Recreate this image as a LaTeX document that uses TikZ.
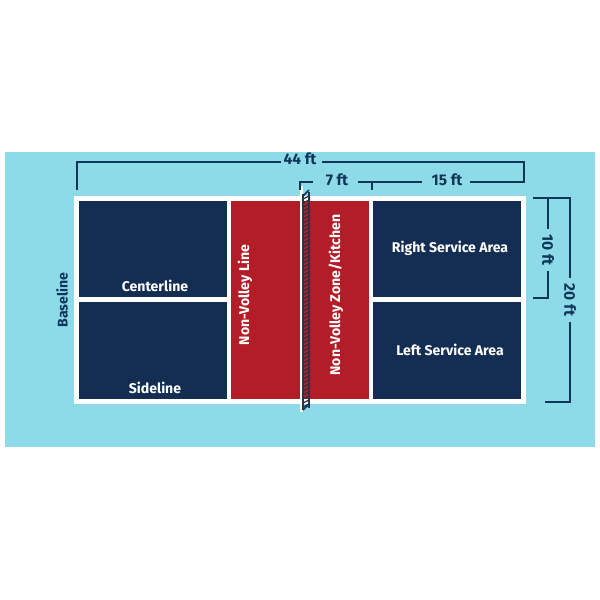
\documentclass[tikz,border=0pt]{standalone}
\usepackage{fontspec}
\setmainfont{Fira Sans}
\usetikzlibrary{positioning}
\definecolor{sky}{HTML}{8DDAE8}
\definecolor{navy}{HTML}{132E52}
\definecolor{courtred}{HTML}{B31D28}
\definecolor{ink}{HTML}{0F3558}
\definecolor{netgray}{HTML}{2B3345}

\begin{document}
\begin{tikzpicture}[%
    x=0.025cm, y=-0.025cm,      % one unit is one pixel of the 600x600 sheet
    line join=miter,
    ]
% -------------------------------------------------
% A few styles
\tikzset{
  lbl/.style={text=white, font=\bfseries\fontsize{10}{12}\selectfont, inner sep=0pt},
  dim/.style={text=ink, font=\bfseries\fontsize{11}{13}\selectfont, inner sep=0pt},
  dimline/.style={draw=ink, line width=2.1pt},
  netline/.style={draw=netgray, line width=0.9pt}
}
% -------------------------------------------------
% Sheet and court surface
\useasboundingbox (0,0) rectangle (600,600);
\fill[white] (0,0) rectangle (600,600);
\fill[sky] (5,152) rectangle (595,447);
\fill[white] (74,196) rectangle (526,404);
\fill[navy] (79,201) rectangle (227,297);
\fill[navy] (79,302) rectangle (227,399);
\fill[navy] (373,201) rectangle (521,297);
\fill[navy] (373,302) rectangle (521,399);
\fill[courtred] (231,201) rectangle (369,399);

% The net
\fill[white] (299.5,186) rectangle (302.5,412);
\draw[netline] (303,194) -- (303,410);
\draw[netline] (309,192) -- (309,408);
\foreach \y in {196,200,...,404}
  \draw[netline] (303,\y+3) -- (309,\y);
\draw[draw=ink, line width=1.2pt] (303,196) -- (309,190);
\draw[draw=ink, line width=1.2pt] (303,410) -- (309,404);

% -------------------------------------------------
% Area labels
\node [lbl] (centre) at (155,286) {Centerline};
\node [lbl] (side) at (155,388) {Sideline};
\node [lbl] (right) at (450,248) {Right Service Area};
\node [lbl] (left) at (450,350) {Left Service Area};
\node [lbl, rotate=90] (nvl) at (245,295) {Non-Volley Line};
\node [lbl, rotate=90] (kitchen) at (336,295) {Non-Volley Zone/Kitchen};
\node [dim, font=\bfseries\fontsize{10}{12}\selectfont, rotate=90] (base) at (62,300) {Baseline};

% -------------------------------------------------
% Dimensions along the top
\node [dim] (d44) at (300,159) {44 ft};
\node [dim] (d7) at (337,180) {7 ft};
\node [dim] (d15) at (447,180) {15 ft};
\coordinate (c44l) at (77,162);
\coordinate (c44r) at (524,162);
\coordinate (c7) at (300,182);
\coordinate (c15) at (372,182);

\draw [dimline] (77,190) -- (c44l) -- (281,162);
\draw [dimline] (322,162) -- (c44r) -- (524,182) -- (470,182);
\draw [dimline] (422,182) -- (358,182);
\draw [dimline] (c15) -- (372,190);
\draw [dimline] (300,190) -- (c7) -- (313,182);

% Dimensions down the right side
\node [dim, rotate=-90] (d10) at (548,250) {10 ft};
\node [dim, rotate=-90] (d20) at (570,300) {20 ft};
\coordinate (ctop) at (570,198);

\draw [dimline] (533,198) -- (ctop) -- (570,278);
\draw [dimline] (570,322) -- (570,402) -- (545,402);
\draw [dimline] (548,198) -- (548,229);
\draw [dimline] (548,271) -- (548,298) -- (533,298);
% -------------------------------------------------
\end{tikzpicture}
\end{document}
